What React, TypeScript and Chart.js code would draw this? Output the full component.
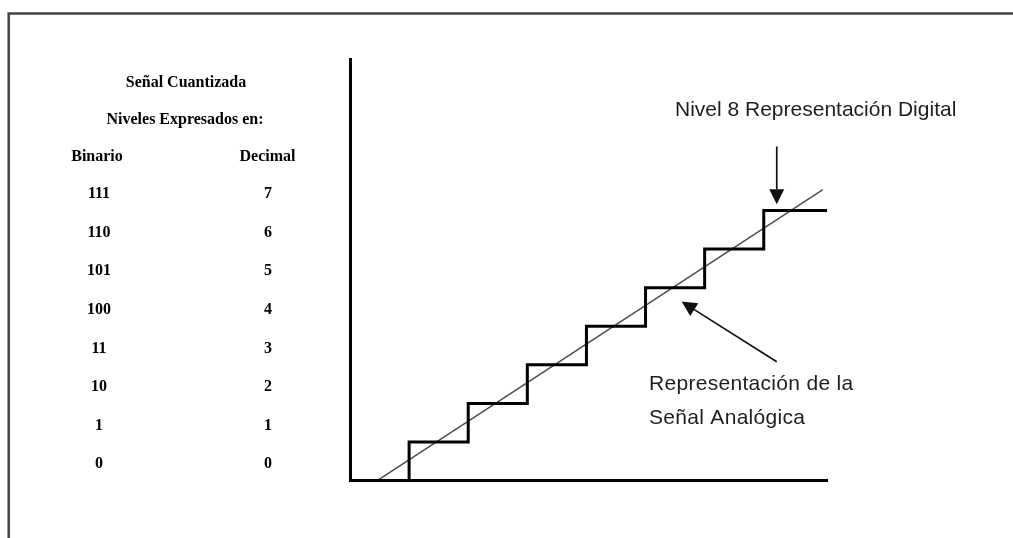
import { useEffect, useRef } from 'react';
import { Chart, registerables } from 'chart.js';

Chart.register(...registerables);

// Quantization levels and their labels (left-hand table)
const levels = [0, 1, 2, 3, 4, 5, 6, 7];
const binaryLabels = ['0', '1', '10', '11', '100', '101', '110', '111'];
const decimalLabels = ['0', '1', '2', '3', '4', '5', '6', '7'];

// Quantized (digital) staircase signal
const stepX = [0, 1, 2, 3, 4, 5, 6, 7, 8.07];
const stepY = [0, 1, 2, 3, 4, 5, 6, 7, 7];

// Analog ramp signal
const analogX = [0.46, 8.0];
const analogY = [0, 7.54];

// Axis extents
const xMax = 8.07;
const yMax = 10.92;

// Annotation arrows (data coordinates): [tailX, tailY, tipX, tipY]
const arrowDigital = [7.22, 8.66, 7.22, 7.16];
const arrowAnalog = [7.22, 3.08, 5.61, 4.64];

const titleText = 'Señal Cuantizada';
const subtitleText = 'Niveles Expresados en:';
const binaryHeader = 'Binario';
const decimalHeader = 'Decimal';
const digitalNote = 'Nivel 8 Representación Digital';
const analogNote = ['Representación de la', 'Señal Analógica'];

function drawArrow(ctx: CanvasRenderingContext2D, x1: number, y1: number, x2: number, y2: number) {
  const ang = Math.atan2(y2 - y1, x2 - x1);
  const headLen = 15;
  const headHalf = 7.5;
  const bx = x2 - headLen * Math.cos(ang);
  const by = y2 - headLen * Math.sin(ang);
  ctx.save();
  ctx.strokeStyle = '#111';
  ctx.fillStyle = '#111';
  ctx.lineWidth = 1.7;
  ctx.beginPath();
  ctx.moveTo(x1, y1);
  ctx.lineTo(bx, by);
  ctx.stroke();
  ctx.beginPath();
  ctx.moveTo(x2, y2);
  ctx.lineTo(bx + headHalf * Math.sin(ang), by - headHalf * Math.cos(ang));
  ctx.lineTo(bx - headHalf * Math.sin(ang), by + headHalf * Math.cos(ang));
  ctx.closePath();
  ctx.fill();
  ctx.restore();
}

const decorPlugin = {
  id: 'decor',
  beforeDraw(chart: any) {
    const { ctx, width, height } = chart;
    ctx.save();
    ctx.fillStyle = '#fff';
    ctx.fillRect(0, 0, width, height);
    ctx.strokeStyle = '#444';
    ctx.lineWidth = 2.5;
    ctx.beginPath();
    ctx.moveTo(width, 13.5);
    ctx.lineTo(8.7, 13.5);
    ctx.lineTo(8.7, height);
    ctx.stroke();
    ctx.restore();
  },
  afterDraw(chart: any) {
    const { ctx } = chart;
    const xs = chart.scales.x;
    const ys = chart.scales.y;
    ctx.save();
    // Left table
    ctx.fillStyle = '#000';
    ctx.font = 'bold 16px "Liberation Serif"';
    ctx.textAlign = 'center';
    ctx.textBaseline = 'alphabetic';
    ctx.fillText(titleText, 186, 86.5);
    ctx.fillText(subtitleText, 185, 124);
    ctx.fillText(binaryHeader, 97, 161);
    ctx.fillText(decimalHeader, 267.5, 161);
    levels.forEach((lv, i) => {
      const py = ys.getPixelForValue(lv + 0.32);
      ctx.fillText(binaryLabels[i], 99, py);
      ctx.fillText(decimalLabels[i], 268, py);
    });
    // Right notes
    ctx.fillStyle = '#1e1e1e';
    ctx.font = '21px "Liberation Sans"';
    ctx.textAlign = 'left';
    ctx.fillText(digitalNote, 675, 116);
    (ctx as any).letterSpacing = '0.3px';
    ctx.fillText(analogNote[0], 649, 390);
    ctx.fillText(analogNote[1], 649, 424);
    (ctx as any).letterSpacing = '0px';
    ctx.restore();

    drawArrow(
      ctx,
      xs.getPixelForValue(arrowDigital[0]), ys.getPixelForValue(arrowDigital[1]),
      xs.getPixelForValue(arrowDigital[2]), ys.getPixelForValue(arrowDigital[3])
    );
    drawArrow(
      ctx,
      xs.getPixelForValue(arrowAnalog[0]), ys.getPixelForValue(arrowAnalog[1]),
      xs.getPixelForValue(arrowAnalog[2]), ys.getPixelForValue(arrowAnalog[3])
    );
  },
};

export default function App() {
  const canvasRef = useRef<HTMLCanvasElement | null>(null);

  useEffect(() => {
    if (!canvasRef.current) return;
    const chart = new Chart(canvasRef.current, {
      type: 'line',
      data: {
        datasets: [
          {
            label: 'Representación Digital',
            data: stepX.map((x, i) => ({ x, y: stepY[i] })),
            stepped: 'before',
            borderColor: '#000',
            borderWidth: 3,
            pointRadius: 0,
            fill: false,
            clip: false,
            borderJoinStyle: 'miter',
            borderCapStyle: 'butt',
          } as any,
          {
            label: 'Señal Analógica',
            data: analogX.map((x, i) => ({ x, y: analogY[i] })),
            borderColor: '#4a4a4a',
            borderWidth: 1.4,
            pointRadius: 0,
            fill: false,
            clip: false,
          } as any,
        ],
      },
      options: {
        responsive: false,
        animation: false,
        layout: {
          autoPadding: false,
          padding: { left: 350, top: 59.3, right: 186, bottom: 57.4 },
        },
        plugins: {
          legend: { display: false },
          tooltip: { enabled: false },
        },
        scales: {
          x: {
            type: 'linear',
            min: 0,
            max: xMax,
            grid: { display: false, drawTicks: false },
            ticks: { display: false },
            border: { display: true, color: '#000', width: 3 },
          },
          y: {
            type: 'linear',
            min: 0,
            max: yMax,
            grid: { display: false, drawTicks: false },
            ticks: { display: false },
            border: { display: true, color: '#000', width: 3 },
          },
        },
      } as any,
      plugins: [decorPlugin],
    });
    return () => chart.destroy();
  }, []);

  return (
    <div style={{ position: 'absolute', left: 0, top: 0, width: 1013, height: 538, background: '#fff' }}>
      <canvas ref={canvasRef} width={1013} height={538} style={{ display: 'block', width: 1013, height: 538 }} />
    </div>
  );
}
